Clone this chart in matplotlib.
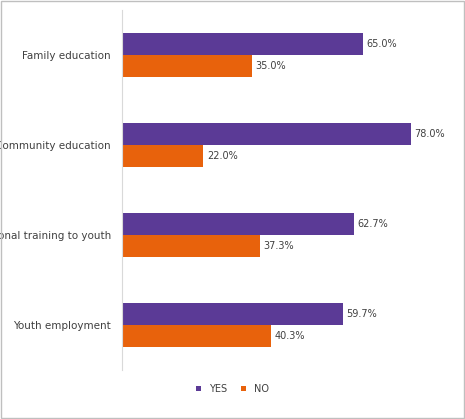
import numpy as np
import matplotlib.pyplot as plt

plt.rcParams['font.family'] = ['Liberation Sans Narrow', 'DejaVu Sans']

categories = ["Family education", "Community education", "Vocational training to youth", "Youth employment"]
yes_vals = [65.0, 78.0, 62.7, 59.7]
no_vals = [35.0, 22.0, 37.3, 40.3]

fig = plt.figure(figsize=(4.65, 4.19), dpi=100)
ax = fig.add_axes([122/465, 49/419, 333/465, 360/419])
fig.patches.append(plt.Rectangle((0.002, 0.002), 0.996, 0.996, transform=fig.transFigure,
                                 fill=False, edgecolor="#bfbfbf", lw=1))

y = np.arange(len(categories))
h = 0.24
ax.barh(y - h/2, yes_vals, height=h, color="#5B3A96", label="YES")
ax.barh(y + h/2, no_vals, height=h, color="#E8620C", label="NO")
for yi, v in zip(y, yes_vals):
    ax.text(v + 1, yi - h/2, f"{v:.1f}%", va="center", fontsize=7, color="#404040")
for yi, v in zip(y, no_vals):
    ax.text(v + 1, yi + h/2, f"{v:.1f}%", va="center", fontsize=7, color="#404040")

ax.set_ylim(3.5, -0.5)
ax.set_xlim(0, 90)
ax.set_yticks(y)
ax.set_yticklabels(categories, fontsize=7.5, color="#404040")
ax.set_xticks([])
for s in ["top", "right", "bottom"]:
    ax.spines[s].set_visible(False)
ax.spines["left"].set_color("#d9d9d9")
ax.tick_params(axis="y", length=0, pad=8)

fig.legend(loc="center", bbox_to_anchor=(0.5, 30/419), ncol=2, frameon=False, fontsize=7,
           handlelength=0.5, handleheight=0.5, columnspacing=1.5, labelcolor="#404040")
fig.savefig("out.png", dpi=100)
